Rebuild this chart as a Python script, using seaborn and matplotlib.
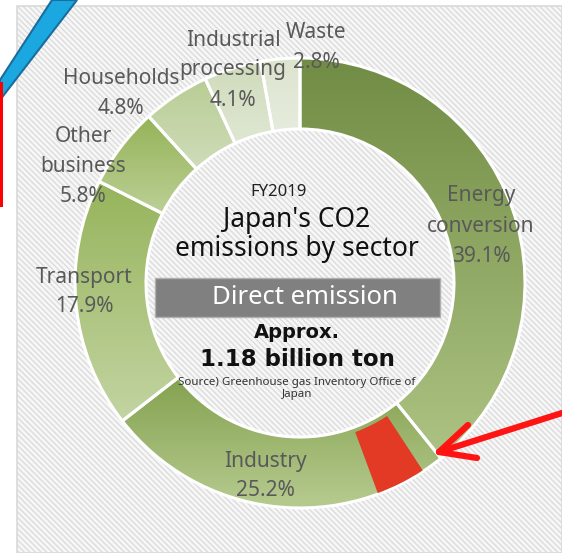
import numpy as np
import matplotlib
matplotlib.use("Agg")
import matplotlib.pyplot as plt
import seaborn as sns
from matplotlib.colors import LinearSegmentedColormap
from matplotlib.patches import Rectangle, Polygon, Wedge

# ---------------- data ----------------
sectors = ["Energy conversion", "Industry", "Transport", "Other business",
           "Households", "Industrial processing", "Waste"]
shares = [39.1, 25.2, 17.9, 5.8, 4.8, 4.1, 2.8]
label_lines = [["Energy", "conversion", "39.1%"],
               ["Industry", "25.2%"],
               ["Transport", "17.9%"],
               ["Other", "business", "5.8%"],
               ["Households", "4.8%"],
               ["Industrial", "processing", "4.1%"],
               ["Waste", "2.8%"]]
top_colors = ["#718c44", "#84a250", "#96b45b", "#95b358", "#b8cd94", "#cfdbbb", "#dce4ce"]
bot_colors = ["#adc383", "#b7cb90", "#c3d4a2", "#bcd096", "#d0dcba", "#dfe7d2", "#e6ecdd"]

fiscal_year = "FY2019"
title_lines = ["Japan's CO2", "emissions by sector"]
box_text = "Direct emission"
total_lines = ["Approx.", "1.18 billion ton"]
source_lines = ["Source) Greenhouse gas Inventory Office of", "Japan"]

# ---------------- style ----------------
sns.set_theme(style="white")
plt.rcParams["font.family"] = ["Noto Sans", "DejaVu Sans"]
plt.rcParams["hatch.linewidth"] = 1.0

W, H = 562, 553
fig = plt.figure(figsize=(W / 100, H / 100), dpi=100)
ax = fig.add_axes([0, 0, 1, 1])

def Y(y):
    return H - y

# hatched panel background
ax.add_patch(Rectangle((17, 0), W - 17, Y(6), facecolor="#f7f7f7",
                       edgecolor="#dcdcdc", hatch="\\\\\\\\\\\\", lw=0, zorder=-5))
ax.add_patch(Rectangle((17, 0), W - 17, Y(6), facecolor="none",
                       edgecolor="#d9d9d9", lw=1.2, zorder=-4))

cx, cy = 300, Y(283)
R, ring = 225, 71

wedges, _ = ax.pie(shares, startangle=90, counterclock=False, center=(cx, cy),
                   radius=R, colors=top_colors, frame=True,
                   wedgeprops=dict(width=ring, edgecolor="white", linewidth=2.2))

for w, c0, c1 in zip(wedges, top_colors, bot_colors):
    ext = w.get_path().get_extents()
    cmap = LinearSegmentedColormap.from_list("g", [c0, c1])
    grad = np.linspace(0, 1, 256).reshape(-1, 1)
    im = ax.imshow(grad, cmap=cmap, extent=(ext.x0, ext.x1, ext.y0, ext.y1),
                   origin="upper", aspect="auto", zorder=0.5, interpolation="bilinear")
    im.set_clip_path(w)
    w.set_facecolor("none")
    w.set_zorder(1)

# red highlighted part of the Industry slice
total = sum(shares)
a0 = 360 * shares[0] / total
ax.add_patch(Wedge((cx, cy), R - 1, 90 - (a0 + 18.5), 90 - (a0 + 5.6), width=R - 160,
                   facecolor="#e23a24", edgecolor="none", zorder=2))

# ---------------- slice labels ----------------
label_pos = [(481, 196), (265, 461), (84, 277), (83, 137), (121, 78), (233, 40), (316, 33)]
lab_color = "#595959"
for (x, y), lines in zip(label_pos, label_lines):
    for k, s in enumerate(lines):
        ax.text(x, Y(y + 30 * k), s, ha="center", va="center", fontsize=15,
                color=lab_color, zorder=5)

# ---------------- centre text ----------------
ax.text(279, Y(192), fiscal_year, ha="center", va="center", fontsize=12, color="#222222")
ax.text(297, Y(220), title_lines[0], ha="center", va="center", fontsize=19, color="#111111")
ax.text(297, Y(249), title_lines[1], ha="center", va="center", fontsize=19, color="#111111")
ax.add_patch(Rectangle((155, Y(317)), 285, 39, facecolor="#808080",
                       edgecolor="#b0b0b0", lw=1, zorder=3))
ax.text(305, Y(298), box_text, ha="center", va="center", fontsize=18.5,
        color="white", zorder=4)
ax.text(297, Y(332), total_lines[0], ha="center", va="center", fontsize=14,
        fontweight="bold", family="DejaVu Sans", color="#111111")
ax.text(297, Y(360), total_lines[1], ha="center", va="center", fontsize=16.5,
        fontweight="bold", family="DejaVu Sans", color="#111111")
ax.text(297, Y(382), source_lines[0], ha="center", va="center", fontsize=8.3, color="#333333")
ax.text(297, Y(394), source_lines[1], ha="center", va="center", fontsize=8.3, color="#333333")

# ---------------- decorations ----------------
ax.add_patch(Polygon([(52, Y(0)), (77, Y(0)), (0, Y(100)), (0, Y(80))], closed=True,
                     facecolor="#1ba8e0", edgecolor="#1a6d9c", lw=1.5, zorder=6))
ax.add_patch(Rectangle((0, Y(207)), 3, 125, facecolor="#ff0000", edgecolor="none", zorder=6))

red = "#ff1414"
ax.plot([562, 439], [Y(413), Y(452)], color=red, lw=4.5, solid_capstyle="round", zorder=7)
ax.plot([468, 439, 477], [Y(425), Y(452), Y(458)], color=red, lw=4.5,
        solid_capstyle="round", solid_joinstyle="round", zorder=7)

ax.set_xlim(0, W)
ax.set_ylim(0, H)
ax.set_aspect("auto")
ax.axis("off")
fig.savefig("out.png", dpi=100)
